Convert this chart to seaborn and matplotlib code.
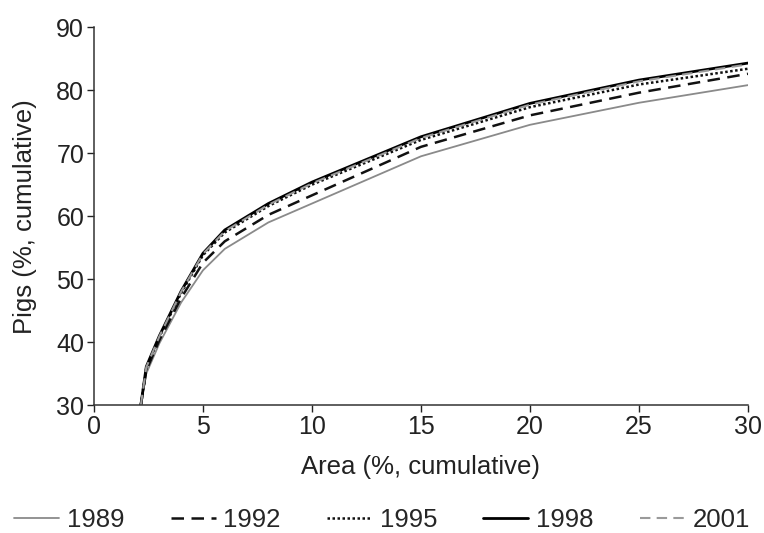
import numpy as np
import pandas as pd
import matplotlib
matplotlib.use("Agg")
import matplotlib.pyplot as plt
import seaborn as sns

sns.set_style("ticks")
plt.rcParams["font.family"] = ["Liberation Sans", "DejaVu Sans"]

# Cumulative share of area (%) at which each curve is sampled
area = [2.15, 2.4, 3, 4, 5, 6, 8, 10, 15, 20, 25, 30]

# Cumulative share of pigs (%) per census year
pigs_1989 = [30, 35.0, 39.8, 46.3, 51.4, 54.8, 59.0, 62.0, 69.5, 74.5, 78.0, 80.8]
pigs_1992 = [30, 35.5, 40.3, 47.0, 52.6, 56.0, 60.2, 63.3, 71.0, 76.0, 79.6, 82.6]
pigs_1995 = [30, 35.9, 40.8, 47.8, 53.8, 57.4, 61.6, 65.0, 72.1, 77.3, 80.9, 83.4]
pigs_1998 = [30, 36.1, 41.0, 48.1, 54.1, 57.8, 62.0, 65.4, 72.6, 77.9, 81.6, 84.3]
pigs_2001 = [30, 36.0, 40.9, 48.0, 54.0, 57.6, 61.8, 65.2, 72.4, 77.7, 81.4, 84.1]

years = ["1989", "1992", "1995", "1998", "2001"]
series = [pigs_1989, pigs_1992, pigs_1995, pigs_1998, pigs_2001]

styles = {
    "1989": dict(color="#8a8a8a", linestyle="-", linewidth=1.3),
    "1992": dict(color="#111111", linestyle=(0, (5, 3)), linewidth=1.8),
    "1995": dict(color="#111111", linestyle=(0, (1, 1)), linewidth=1.8),
    "1998": dict(color="#000000", linestyle="-", linewidth=2.0),
    "2001": dict(color="#9a9a9a", linestyle=(0, (5, 3)), linewidth=1.5),
}

df = pd.DataFrame({
    "Area": np.tile(area, len(years)),
    "Pigs": np.concatenate(series),
    "Year": np.repeat(years, len(area)),
})

fig = plt.figure(figsize=(7.64, 5.33), dpi=100)
ax = fig.add_axes([0.123, 0.240, 0.856, 0.709])

for yr in years:
    sub = df[df["Year"] == yr]
    sns.lineplot(data=sub, x="Area", y="Pigs", ax=ax, label=yr,
                 estimator=None, sort=False, **styles[yr])

ax.set_xlim(0, 30)
ax.set_ylim(30, 90)
ax.set_xticks(range(0, 31, 5))
ax.set_yticks(range(30, 91, 10))
ax.tick_params(axis="both", labelsize=18, length=5, width=1, colors="#222222",
               pad=2)
for sp in ("top", "right"):
    ax.spines[sp].set_visible(False)
for sp in ("left", "bottom"):
    ax.spines[sp].set_linewidth(1.1)
    ax.spines[sp].set_color("#333333")

ax.set_xlabel("Area (%, cumulative)", fontsize=18.5, color="#222222", labelpad=12)
ax.set_ylabel("Pigs (%, cumulative)", fontsize=18.5, color="#222222", labelpad=14)

handles, labels = ax.get_legend_handles_labels()
ax.get_legend().remove()
fig.legend(handles, labels, loc="center", bbox_to_anchor=(0.5, 0.024),
           ncol=5, frameon=False, fontsize=18.5, handlelength=1.75,
           handletextpad=0.3, columnspacing=1.8, borderpad=0.2)

fig.savefig("out.png", dpi=100, facecolor="white")
